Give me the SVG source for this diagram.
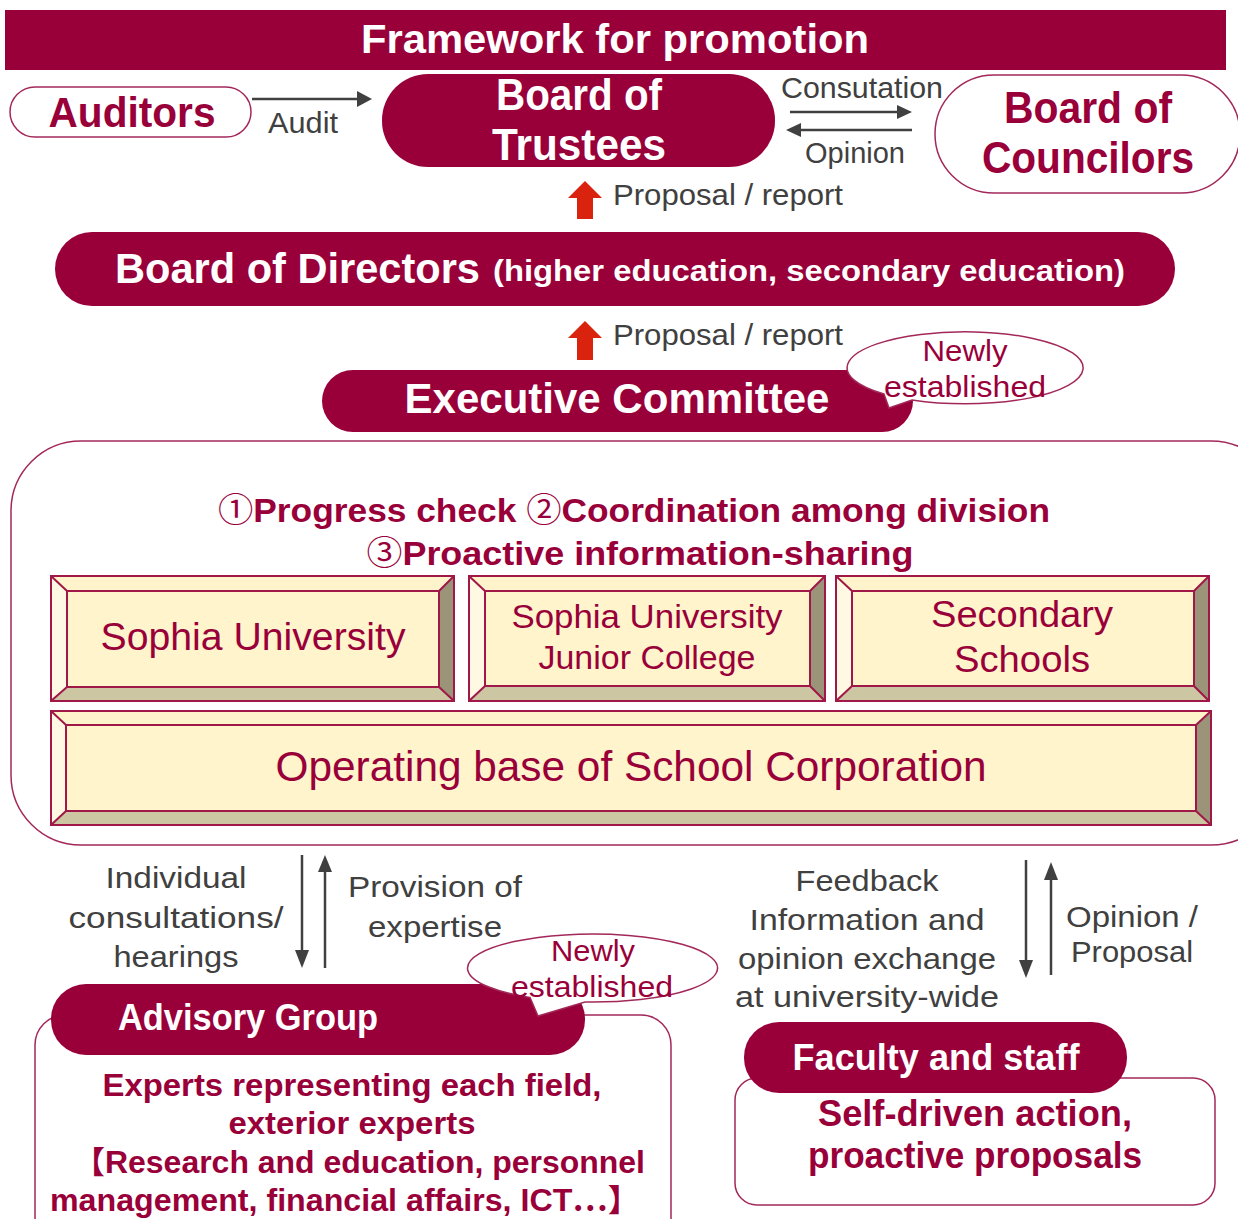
<svg xmlns="http://www.w3.org/2000/svg" width="1238" height="1219" viewBox="0 0 1238 1219">
<defs>
<style>
.t{font-family:"Liberation Sans","Noto Sans CJK JP",sans-serif}
.cjk{font-family:"Noto Sans CJK JP",sans-serif}
.w{fill:#fff;font-weight:bold}
.m{fill:#99003A}
.mb{fill:#99003A;font-weight:bold}
.g{fill:#404040}
.fill{fill:#99003A}
.out{fill:#fff;stroke:#A3285A;stroke-width:1.5}
.ln{stroke:#404040;stroke-width:2.5;fill:none}
.ah{fill:#404040}
.red{fill:#D9230F}
.face{fill:#FFF4CC}
.bt{fill:#FFF3CC}
.bl{fill:#FFF9E3}
.br{fill:#9C9479}
.bb{fill:#CCC6A3}
.bs{fill:none;stroke:#A01848;stroke-width:2}
</style>
</defs>
<rect width="1238" height="1219" fill="#fff"/>

<g id="title">
<rect x="5" y="10" width="1221" height="60" class="fill"/>
<text x="615" y="53" class="t w" font-size="40" text-anchor="middle" textLength="508" lengthAdjust="spacingAndGlyphs">Framework for promotion</text>
</g>

<g id="container">
<rect x="11" y="441" width="1270" height="404" rx="70" class="out"/>
</g>

<g id="auditors">
<rect x="10" y="87" width="241" height="50" rx="25" class="out"/>
<text x="132" y="127" class="t mb" font-size="42" text-anchor="middle" textLength="167" lengthAdjust="spacingAndGlyphs">Auditors</text>
</g>

<g id="trustees">
<rect x="382" y="74" width="393" height="93" rx="46" class="fill"/>
<text x="579" y="110" class="t w" font-size="44" text-anchor="middle" textLength="166" lengthAdjust="spacingAndGlyphs">Board of</text>
<text x="579" y="160" class="t w" font-size="44" text-anchor="middle" textLength="174" lengthAdjust="spacingAndGlyphs">Trustees</text>
</g>

<g id="councilors">
<rect x="935" y="75" width="305" height="118" rx="59" class="out"/>
<text x="1088" y="123" class="t mb" font-size="44" text-anchor="middle" textLength="168" lengthAdjust="spacingAndGlyphs">Board of</text>
<text x="1088" y="173" class="t mb" font-size="44" text-anchor="middle" textLength="212" lengthAdjust="spacingAndGlyphs">Councilors</text>
</g>

<g id="directors">
<rect x="55" y="232" width="1120" height="74" rx="37" class="fill"/>
<text x="115" y="283" class="t w" font-size="42" textLength="365" lengthAdjust="spacingAndGlyphs">Board of Directors</text>
<text x="493" y="281" class="t w" font-size="30" textLength="632" lengthAdjust="spacingAndGlyphs">(higher education, secondary education)</text>
</g>

<g id="executive">
<rect x="322" y="370" width="591" height="62" rx="31" class="fill"/>
<text x="617" y="413" class="t w" font-size="42" text-anchor="middle" textLength="425" lengthAdjust="spacingAndGlyphs">Executive Committee</text>
</g>

<g id="callout1">
<path d="M 912 400 A 118 36 0 1 0 884 394 L 889 408 Z" class="out"/>
<text x="965" y="361" class="t m" font-size="29" text-anchor="middle" textLength="85" lengthAdjust="spacingAndGlyphs">Newly</text>
<text x="965" y="397" class="t m" font-size="29" text-anchor="middle" textLength="162" lengthAdjust="spacingAndGlyphs">established</text>
</g>

<g id="heading">
<text x="634" y="522" class="t mb" font-size="34" text-anchor="middle" textLength="832" lengthAdjust="spacingAndGlyphs"><tspan class="cjk" font-weight="normal">①</tspan>Progress check <tspan class="cjk" font-weight="normal">②</tspan>Coordination among division</text>
<text x="640" y="565" class="t mb" font-size="34" text-anchor="middle" textLength="547" lengthAdjust="spacingAndGlyphs"><tspan class="cjk" font-weight="normal">③</tspan>Proactive information-sharing</text>
</g>

<g id="sophia">
<rect x="51" y="576" width="403" height="125" class="face"/>
<polygon points="51,576 454,576 439,591 67,591" class="bt"/>
<polygon points="51,576 67,591 67,687 51,701" class="bl"/>
<polygon points="454,576 454,701 439,687 439,591" class="br"/>
<polygon points="51,701 67,687 439,687 454,701" class="bb"/>
<rect x="51" y="576" width="403" height="125" class="bs"/>
<rect x="67" y="591" width="372" height="96" class="bs"/>
<path d="M51 576 L67 591 M454 576 L439 591 M51 701 L67 687 M454 701 L439 687" class="bs"/>
<text x="253" y="650" class="t m" font-size="38" text-anchor="middle" textLength="305" lengthAdjust="spacingAndGlyphs">Sophia University</text>
</g>

<g id="junior">
<rect x="469" y="576" width="356" height="125" class="face"/>
<polygon points="469,576 825,576 810,591 485,591" class="bt"/>
<polygon points="469,576 485,591 485,686 469,701" class="bl"/>
<polygon points="825,576 825,701 810,686 810,591" class="br"/>
<polygon points="469,701 485,686 810,686 825,701" class="bb"/>
<rect x="469" y="576" width="356" height="125" class="bs"/>
<rect x="485" y="591" width="325" height="95" class="bs"/>
<path d="M469 576 L485 591 M825 576 L810 591 M469 701 L485 686 M825 701 L810 686" class="bs"/>
<text x="647" y="628" class="t m" font-size="34" text-anchor="middle" textLength="271" lengthAdjust="spacingAndGlyphs">Sophia University</text>
<text x="647" y="669" class="t m" font-size="34" text-anchor="middle" textLength="217" lengthAdjust="spacingAndGlyphs">Junior College</text>
</g>

<g id="secondary">
<rect x="836" y="576" width="373" height="125" class="face"/>
<polygon points="836,576 1209,576 1194,591 852,591" class="bt"/>
<polygon points="836,576 852,591 852,686 836,701" class="bl"/>
<polygon points="1209,576 1209,701 1194,686 1194,591" class="br"/>
<polygon points="836,701 852,686 1194,686 1209,701" class="bb"/>
<rect x="836" y="576" width="373" height="125" class="bs"/>
<rect x="852" y="591" width="342" height="95" class="bs"/>
<path d="M836 576 L852 591 M1209 576 L1194 591 M836 701 L852 686 M1209 701 L1194 686" class="bs"/>
<text x="1022" y="627" class="t m" font-size="37" text-anchor="middle" textLength="182" lengthAdjust="spacingAndGlyphs">Secondary</text>
<text x="1022" y="672" class="t m" font-size="37" text-anchor="middle" textLength="136" lengthAdjust="spacingAndGlyphs">Schools</text>
</g>

<g id="operating">
<rect x="51" y="711" width="1160" height="114" class="face"/>
<polygon points="51,711 1211,711 1196,725 66,725" class="bt"/>
<polygon points="51,711 66,725 66,811 51,825" class="bl"/>
<polygon points="1211,711 1211,825 1196,811 1196,725" class="br"/>
<polygon points="51,825 66,811 1196,811 1211,825" class="bb"/>
<rect x="51" y="711" width="1160" height="114" class="bs"/>
<rect x="66" y="725" width="1130" height="86" class="bs"/>
<path d="M51 711 L66 725 M1211 711 L1196 725 M51 825 L66 811 M1211 825 L1196 811" class="bs"/>
<text x="631" y="781" class="t m" font-size="42" text-anchor="middle" textLength="711" lengthAdjust="spacingAndGlyphs">Operating base of School Corporation</text>
</g>

<g id="advisory">
<rect x="35" y="1015" width="636" height="240" rx="30" class="out"/>
<rect x="51" y="984" width="534" height="71" rx="35" class="fill"/>
<text x="118" y="1030" class="t w" font-size="37" textLength="260" lengthAdjust="spacingAndGlyphs">Advisory Group</text>
<text x="352" y="1096" class="t mb" font-size="31" text-anchor="middle" textLength="499" lengthAdjust="spacingAndGlyphs">Experts representing each field,</text>
<text x="352" y="1134" class="t mb" font-size="31" text-anchor="middle" textLength="247" lengthAdjust="spacingAndGlyphs">exterior experts</text>
<text x="359" y="1173" class="t mb" font-size="31" text-anchor="middle" textLength="572" lengthAdjust="spacingAndGlyphs">【Research and education, personnel</text>
<text x="345" y="1211" class="t mb" font-size="31" text-anchor="middle" textLength="590" lengthAdjust="spacingAndGlyphs">management, financial affairs, ICT<tspan class="cjk">…】</tspan></text>
</g>

<g id="callout2">
<path d="M 585 1002 A 125 34 0 1 0 530 997.5 L 538 1016 Z" class="out"/>
<text x="593" y="961" class="t m" font-size="29" text-anchor="middle" textLength="84" lengthAdjust="spacingAndGlyphs">Newly</text>
<text x="592" y="997" class="t m" font-size="29" text-anchor="middle" textLength="162" lengthAdjust="spacingAndGlyphs">established</text>
</g>

<g id="faculty">
<rect x="735" y="1078" width="480" height="127" rx="22" class="out"/>
<rect x="744" y="1022" width="383" height="71" rx="35" class="fill"/>
<text x="936" y="1070" class="t w" font-size="37" text-anchor="middle" textLength="287" lengthAdjust="spacingAndGlyphs">Faculty and staff</text>
<text x="975" y="1126" class="t mb" font-size="36" text-anchor="middle" textLength="314" lengthAdjust="spacingAndGlyphs">Self-driven action,</text>
<text x="975" y="1168" class="t mb" font-size="36" text-anchor="middle" textLength="334" lengthAdjust="spacingAndGlyphs">proactive proposals</text>
</g>

<g id="connectors">
<line x1="252" y1="99" x2="358" y2="99" class="ln"/>
<polygon points="357,91 372,99 357,107" class="ah"/>
<line x1="790" y1="112" x2="898" y2="112" class="ln"/>
<polygon points="897,105 912,112 897,119" class="ah"/>
<line x1="912" y1="130" x2="800" y2="130" class="ln"/>
<polygon points="801,123 786,130 801,137" class="ah"/>
<polygon points="568,198 585,181 602,198 593,198 593,219 577,219 577,198" class="red"/>
<polygon points="568,338 585,321 602,338 593,338 593,360 577,360 577,338" class="red"/>
<line x1="302" y1="855" x2="302" y2="951" class="ln"/>
<polygon points="295,950 309,950 302,968" class="ah"/>
<line x1="325" y1="968" x2="325" y2="871" class="ln"/>
<polygon points="318,872 332,872 325,855" class="ah"/>
<line x1="1026" y1="860" x2="1026" y2="961" class="ln"/>
<polygon points="1019,960 1033,960 1026,978" class="ah"/>
<line x1="1051" y1="975" x2="1051" y2="879" class="ln"/>
<polygon points="1044,880 1058,880 1051,862" class="ah"/>
</g>

<g id="labels">
<text x="303" y="133" class="t g" font-size="29" text-anchor="middle" textLength="70" lengthAdjust="spacingAndGlyphs">Audit</text>
<text x="862" y="98" class="t g" font-size="29" text-anchor="middle" textLength="162" lengthAdjust="spacingAndGlyphs">Consutation</text>
<text x="855" y="163" class="t g" font-size="29" text-anchor="middle" textLength="100" lengthAdjust="spacingAndGlyphs">Opinion</text>
<text x="613" y="205" class="t g" font-size="29" textLength="230" lengthAdjust="spacingAndGlyphs">Proposal / report</text>
<text x="613" y="345" class="t g" font-size="29" textLength="230" lengthAdjust="spacingAndGlyphs">Proposal / report</text>
<text x="176" y="888" class="t g" font-size="30" text-anchor="middle" textLength="141" lengthAdjust="spacingAndGlyphs">Individual</text>
<text x="176" y="928" class="t g" font-size="30" text-anchor="middle" textLength="215" lengthAdjust="spacingAndGlyphs">consultations/</text>
<text x="176" y="967" class="t g" font-size="30" text-anchor="middle" textLength="125" lengthAdjust="spacingAndGlyphs">hearings</text>
<text x="435" y="897" class="t g" font-size="30" text-anchor="middle" textLength="174" lengthAdjust="spacingAndGlyphs">Provision of</text>
<text x="435" y="937" class="t g" font-size="30" text-anchor="middle" textLength="134" lengthAdjust="spacingAndGlyphs">expertise</text>
<text x="867" y="891" class="t g" font-size="30" text-anchor="middle" textLength="143" lengthAdjust="spacingAndGlyphs">Feedback</text>
<text x="867" y="930" class="t g" font-size="30" text-anchor="middle" textLength="235" lengthAdjust="spacingAndGlyphs">Information and</text>
<text x="867" y="969" class="t g" font-size="30" text-anchor="middle" textLength="258" lengthAdjust="spacingAndGlyphs">opinion exchange</text>
<text x="867" y="1007" class="t g" font-size="30" text-anchor="middle" textLength="264" lengthAdjust="spacingAndGlyphs">at university-wide</text>
<text x="1132" y="927" class="t g" font-size="30" text-anchor="middle" textLength="132" lengthAdjust="spacingAndGlyphs">Opinion /</text>
<text x="1132" y="962" class="t g" font-size="30" text-anchor="middle" textLength="122" lengthAdjust="spacingAndGlyphs">Proposal</text>
</g>
</svg>
